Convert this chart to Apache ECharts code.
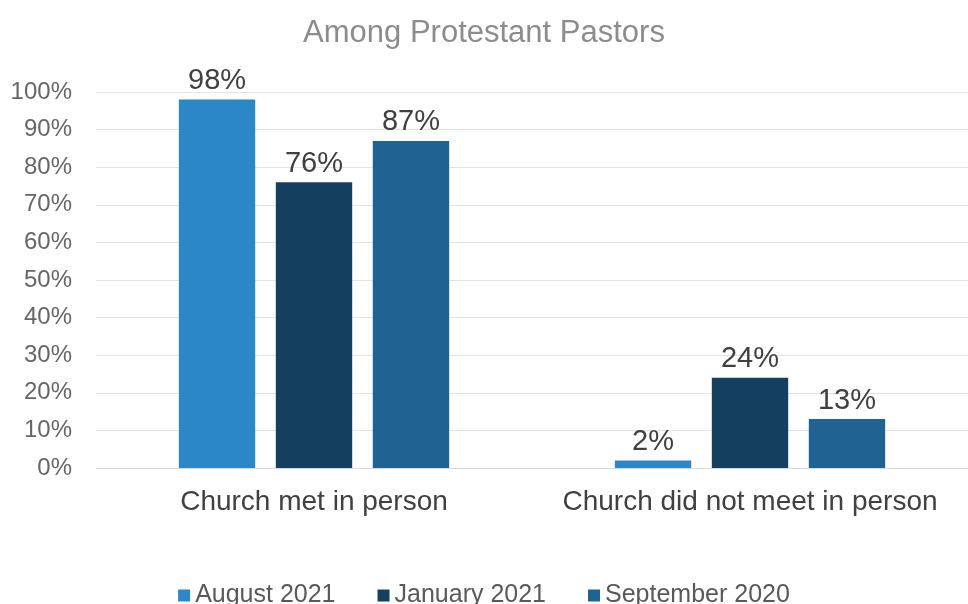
<!DOCTYPE html>
<html>
<head>
<meta charset="utf-8">
<script src="https://cdn.jsdelivr.net/npm/echarts@6/dist/echarts.min.js"></script>
<style>
  html, body { margin: 0; padding: 0; background: #fff; }
  #chart { width: 968px; height: 604px; }
</style>
</head>
<body>
<div id="chart"></div>
<script>
var categories = ['Church met in person', 'Church did not meet in person'];
var seriesNames = ['August 2021', 'January 2021', 'September 2020'];
var aug2021 = [98, 2];
var jan2021 = [76, 24];
var sep2020 = [87, 13];
var colors = ['#2b87c6', '#143f5f', '#206392'];

var myChart = echarts.init(document.getElementById('chart'));
var labelStyle = {
    show: true,
    position: 'top',
    formatter: '{c}%',
    color: '#404040',
    fontSize: 29,
    fontFamily: 'Liberation Sans',
    distance: 4
};
var option = {
    textStyle: { fontFamily: 'Liberation Sans' },
    title: {
        text: 'Among Protestant Pastors',
        left: 'center',
        top: 13,
        textStyle: { color: '#8c8c8c', fontSize: 31, fontWeight: 'normal' }
    },
    legend: {
        top: 578,
        left: 'center',
        itemWidth: 12,
        itemHeight: 12,
        itemGap: 42,
        icon: 'rect',
        textStyle: { color: '#595959', fontSize: 25 },
        data: seriesNames
    },
    grid: {
        left: 96,
        width: 880,
        top: 92,
        bottom: 136
    },
    xAxis: {
        type: 'category',
        data: categories,
        axisTick: { show: false },
        axisLine: { lineStyle: { color: '#d9d9d9' } },
        axisLabel: { color: '#404040', fontSize: 28, margin: 20, interval: 0 }
    },
    yAxis: {
        type: 'value',
        min: 0,
        max: 100,
        interval: 10,
        axisLabel: { formatter: '{value}%', color: '#666', fontSize: 24, margin: 24 },
        splitLine: { lineStyle: { color: '#e3e3e3' } }
    },
    series: [
        { name: seriesNames[0], type: 'bar', data: aug2021, itemStyle: { color: colors[0] },
          barGap: '27%', barCategoryGap: '38%', label: labelStyle },
        { name: seriesNames[1], type: 'bar', data: jan2021, itemStyle: { color: colors[1] },
          barGap: '27%', barCategoryGap: '38%', label: labelStyle },
        { name: seriesNames[2], type: 'bar', data: sep2020, itemStyle: { color: colors[2] },
          barGap: '27%', barCategoryGap: '38%', label: labelStyle }
    ]
};
myChart.setOption(option);
window.addEventListener('resize', function () {
    myChart.resize();
});
</script>
</body>
</html>
